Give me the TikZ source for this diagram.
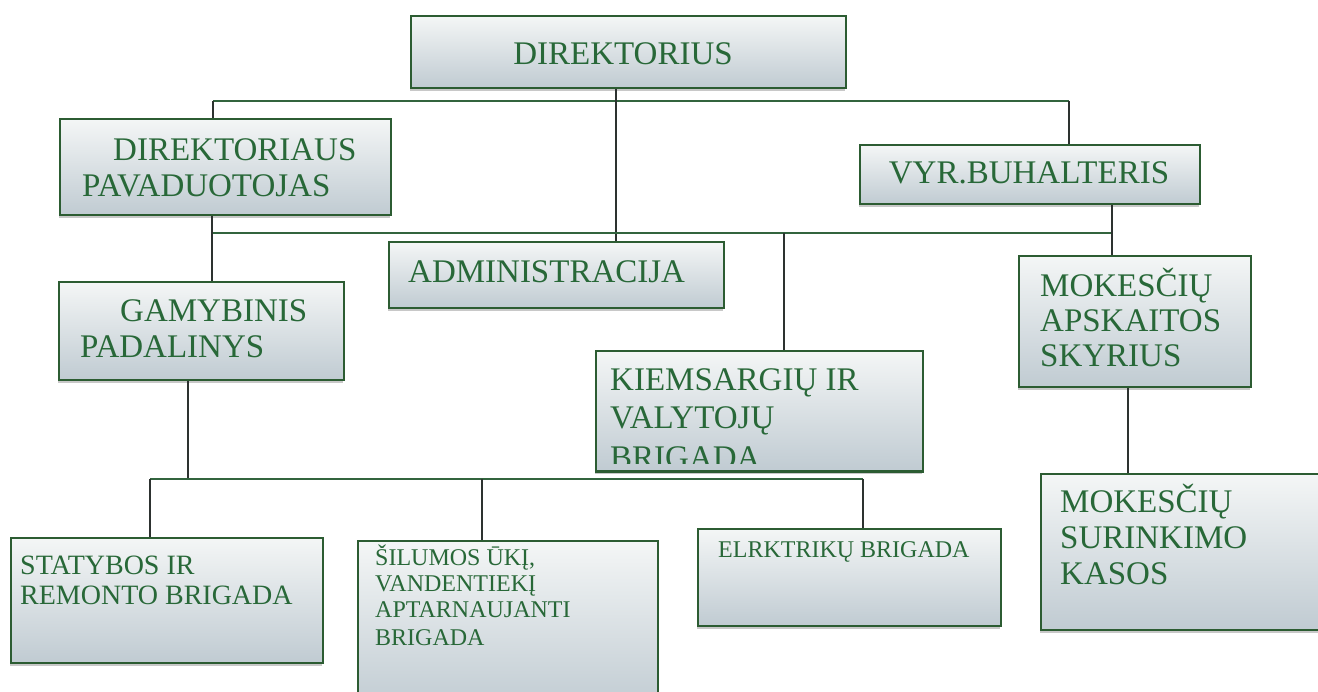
\documentclass[tikz,border=0pt]{standalone}
\usepackage{fontspec}
\setmainfont{Liberation Serif}
\usetikzlibrary{shadows}
\definecolor{boxgreen}{RGB}{44,92,50}
\definecolor{txtgreen}{RGB}{40,104,56}
\definecolor{filltop}{RGB}{244,246,246}
\definecolor{fillbot}{RGB}{192,203,210}
\definecolor{busgreen}{RGB}{50,100,62}
\definecolor{vdark}{RGB}{45,50,48}
\tikzset{
  orgbox/.style={draw=boxgreen, line width=1.8pt, top color=filltop, bottom color=fillbot,
    anchor=north west, inner sep=0pt,
    drop shadow={shadow xshift=-0.5pt, shadow yshift=-3pt, opacity=.3, fill=black!70}},
  bigtxt/.style={text=txtgreen, inner sep=0pt, anchor=base west, font=\fontsize{33}{38}\selectfont},
  midtxt/.style={text=txtgreen, inner sep=0pt, anchor=base west, font=\fontsize{28}{32}\selectfont},
  smalltxt/.style={text=txtgreen, inner sep=0pt, anchor=base west, font=\fontsize{24}{28}\selectfont},
  bus/.style={draw=busgreen, line width=1.4pt},
  vline/.style={draw=vdark, line width=1.4pt},
}
\begin{document}
\begin{tikzpicture}[x=1pt,y=-1pt]
\useasboundingbox[fill=white] (0,0) rectangle (1318,692);

% boxes
\node[orgbox, minimum width=435pt, minimum height=72pt] (dir) at (410,15) {};
\node[orgbox, minimum width=331pt, minimum height=96pt] (pav) at (59,118) {};
\node[orgbox, minimum width=340pt, minimum height=59pt] (vyr) at (859,144) {};
\node[orgbox, minimum width=335pt, minimum height=66pt] (adm) at (388,241) {};
\node[orgbox, minimum width=285pt, minimum height=98pt] (gam) at (58,281) {};
\node[orgbox, minimum width=327pt, minimum height=120pt] (kie) at (595,350) {};
\node[orgbox, minimum width=232pt, minimum height=131pt] (mk1) at (1018,255) {};
\node[orgbox, minimum width=300pt, minimum height=156pt] (mk2) at (1040,473) {};
\node[orgbox, minimum width=312pt, minimum height=125pt] (sta) at (10,537) {};
\node[orgbox, minimum width=300pt, minimum height=170pt] (sil) at (357,540) {};
\node[orgbox, minimum width=303pt, minimum height=97pt] (elr) at (697,528) {};

% texts
\node[bigtxt, anchor=base] (tdir) at (623,65) {DIREKTORIUS};
\node[bigtxt] (tpav1) at (113,161) {DIREKTORIAUS};
\node[bigtxt] (tpav2) at (82,197) {PAVADUOTOJAS};
\node[bigtxt, anchor=base] (tvyr) at (1029,184) {VYR.BUHALTERIS};
\node[bigtxt] (tadm) at (408,283) {ADMINISTRACIJA};
\node[bigtxt] (tgam1) at (120,322) {GAMYBINIS};
\node[bigtxt] (tgam2) at (80,358) {PADALINYS};
\begin{scope}
  \clip (kie.north west) rectangle ([yshift=8pt]kie.south east);
  \node[bigtxt] (tkie1) at (610,391) {KIEMSARGIŲ IR};
  \node[bigtxt] (tkie2) at (610,429) {VALYTOJŲ};
  \node[bigtxt] (tkie3) at (610,469) {BRIGADA};
\end{scope}
\draw[boxgreen, line width=1.8pt] (kie.south west) -- (kie.south east);
\node[bigtxt] (tmk11) at (1040,297) {MOKESČIŲ};
\node[bigtxt] (tmk12) at (1040,332) {APSKAITOS};
\node[bigtxt] (tmk13) at (1040,367) {SKYRIUS};
\node[bigtxt] (tmk21) at (1060,512) {MOKESČIŲ};
\node[bigtxt] (tmk22) at (1060,548) {SURINKIMO};
\node[bigtxt] (tmk23) at (1060,584) {KASOS};
\node[midtxt] (tsta1) at (20,574) {STATYBOS IR};
\node[midtxt] (tsta2) at (20,604) {REMONTO BRIGADA};
\node[smalltxt] (tsil1) at (375,565) {ŠILUMOS ŪKĮ,};
\node[smalltxt] (tsil2) at (375,591) {VANDENTIEKĮ};
\node[smalltxt] (tsil3) at (375,617) {APTARNAUJANTI};
\node[smalltxt] (tsil4) at (375,645) {BRIGADA};
\node[smalltxt] (telr) at (718,558) {ELRKTRIKŲ BRIGADA};

% bus coordinates
\coordinate (b1l) at (213,101);
\coordinate (b1r) at (1069,101);
\coordinate (b2l) at (212,233);
\coordinate (b2r) at (1112,233);
\coordinate (b3l) at (150,479);
\coordinate (b3r) at (863,479);
\coordinate (xdir) at (616,0);
\coordinate (xkie) at (784,0);
\coordinate (xmk) at (1128,0);
\coordinate (xgam) at (188,0);
\coordinate (xsil) at (482,0);

% connectors
\draw[bus] (b1l) -- (b1r);
\draw[vline] (b1l) -- (b1l |- pav.north);
\draw[vline] (b1r) -- (b1r |- vyr.north);
\draw[vline] (dir.south -| xdir) -- (adm.north -| xdir);
\draw[bus] (b2l) -- (b2r);
\draw[vline] (pav.south -| b2l) -- (gam.north -| b2l);
\draw[vline] (vyr.south -| b2r) -- (mk1.north -| b2r);
\draw[vline] (b2l -| xkie) -- (kie.north -| xkie);
\draw[vline] (mk1.south -| xmk) -- (mk2.north -| xmk);
\draw[vline] (gam.south -| xgam) -- (b3l -| xgam);
\draw[bus] (b3l) -- (b3r);
\draw[vline] (b3l) -- (b3l |- sta.north);
\draw[vline] (b3l -| xsil) -- (sil.north -| xsil);
\draw[vline] (b3r) -- (b3r |- elr.north);
\end{tikzpicture}
\end{document}
